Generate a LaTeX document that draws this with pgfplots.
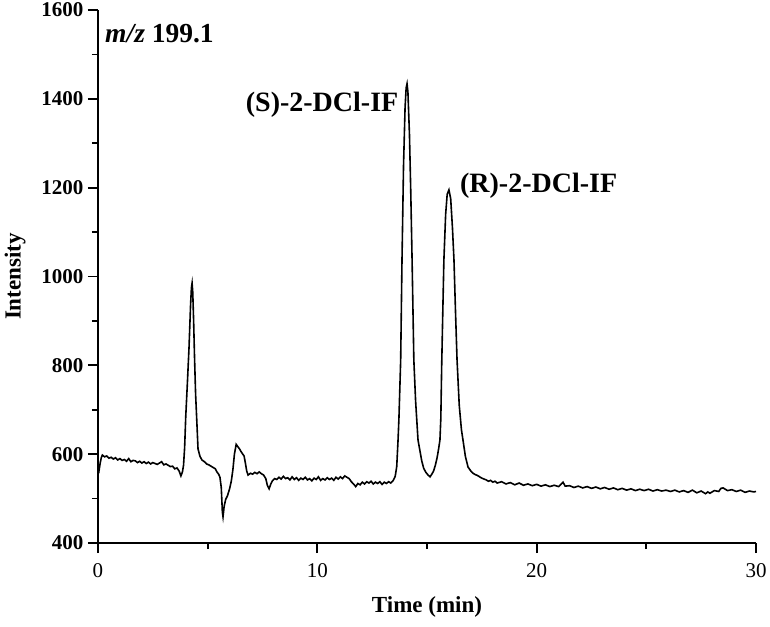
\documentclass[border=0pt]{standalone}
\usepackage{fontspec}
\setmainfont{Liberation Serif}
\usepackage{pgfplots}
\pgfplotsset{compat=1.18}

\begin{document}
\begin{tikzpicture}
\begin{axis}[
    at={(0,0)}, anchor=south west,
    scale only axis,
    width=658pt, height=533pt,
    xmin=0, xmax=30, ymin=400, ymax=1600,
    axis lines*=left,
    axis line style={line width=1.8pt},
    xtick={0,10,20,30}, ytick={400,600,...,1600},
    minor x tick num=1, minor y tick num=1,
    tick align=outside,
    major tick length=10pt, minor tick length=6pt,
    every tick/.style={line width=1.8pt, black},
    /pgf/number format/assume math mode=true,
    /pgf/number format/1000 sep={},
    xticklabel style={font=\fontsize{21}{21}\selectfont, yshift=-7pt},
    yticklabel style={font=\bfseries\fontsize{21}{21}\selectfont, xshift=-1pt},
    xlabel={Time (min)}, ylabel={Intensity},
    xlabel style={font=\bfseries\fontsize{23}{23}\selectfont, at={(axis description cs:0.5,-0.12)}, anchor=center},
    ylabel style={font=\bfseries\fontsize{23}{23}\selectfont, at={(axis description cs:-0.126,0.5)}, anchor=center},
    clip=false,
]
\addplot[black, line width=1.6pt] coordinates {
(0.00,572) (0.05,564) (0.10,580) (0.15,592) (0.20,598) (0.30,594) (0.40,596) (0.50,591)
(0.60,593) (0.70,589) (0.80,592) (0.90,587) (1.00,590) (1.10,586) (1.20,588) (1.30,584)
(1.40,590) (1.50,583) (1.60,586) (1.70,585) (1.80,581) (1.90,584) (2.00,580) (2.10,583)
(2.20,579) (2.30,582) (2.40,578) (2.50,581) (2.60,579) (2.70,577) (2.80,580) (2.90,583)
(3.00,576) (3.10,578) (3.20,575) (3.30,572) (3.40,573) (3.50,567) (3.60,569) (3.70,562)
(3.78,551) (3.85,560) (3.90,575) (3.95,615) (4.00,684) (4.08,765) (4.15,840) (4.22,935)
(4.26,975) (4.29,985) (4.32,965) (4.36,900) (4.40,820) (4.45,735) (4.50,680) (4.56,612)
(4.65,595) (4.74,587) (4.85,583) (4.95,578) (5.05,576) (5.15,573) (5.25,570) (5.35,567)
(5.42,560) (5.50,555) (5.56,548) (5.62,525) (5.67,470) (5.70,459) (5.75,482) (5.82,498)
(5.90,506) (6.00,522) (6.08,540) (6.15,565) (6.22,600) (6.30,622) (6.36,618) (6.45,612)
(6.52,606) (6.60,600) (6.66,596) (6.72,580) (6.78,562) (6.84,553) (6.95,557) (7.05,555)
(7.15,559) (7.25,556) (7.35,560) (7.45,556) (7.55,553) (7.65,545) (7.72,530) (7.80,522)
(7.88,533) (7.95,540) (8.05,545) (8.15,543) (8.25,548) (8.35,544) (8.45,550) (8.55,545)
(8.65,547) (8.75,542) (8.85,549) (8.95,543) (9.05,547) (9.15,541) (9.25,546) (9.35,543)
(9.45,548) (9.55,542) (9.65,545) (9.75,540) (9.85,546) (9.95,543) (10.05,549) (10.15,541)
(10.25,545) (10.35,542) (10.45,547) (10.55,543) (10.65,546) (10.75,541) (10.85,548) (10.95,544)
(11.05,549) (11.15,545) (11.25,551) (11.35,548) (11.45,545) (11.55,538) (11.65,533) (11.75,527)
(11.85,534) (11.95,531) (12.05,537) (12.15,533) (12.25,538) (12.35,535) (12.45,539) (12.55,533)
(12.65,537) (12.75,534) (12.85,538) (12.95,532) (13.05,537) (13.15,534) (13.25,538) (13.35,535)
(13.45,540) (13.55,550) (13.62,572) (13.68,632) (13.72,680) (13.80,812) (13.86,1037) (13.93,1250)
(14.00,1380) (14.05,1425) (14.09,1434) (14.13,1415) (14.20,1320) (14.26,1190) (14.32,1037) (14.40,812)
(14.48,720) (14.59,632) (14.68,607) (14.76,585) (14.85,568) (14.95,559) (15.05,553) (15.14,549)
(15.22,555) (15.30,562) (15.38,575) (15.46,592) (15.53,612) (15.59,632) (15.63,680) (15.67,800)
(15.72,920) (15.77,1037) (15.85,1140) (15.92,1185) (16.00,1195) (16.08,1175) (16.16,1110) (16.23,1037)
(16.30,920) (16.37,812) (16.47,710) (16.57,655) (16.64,632) (16.75,595) (16.87,571) (17.00,562)
(17.10,557) (17.20,554) (17.30,552) (17.40,549) (17.50,546) (17.60,544) (17.70,542) (17.80,539)
(17.90,541) (18.00,537) (18.10,539) (18.20,535) (18.40,538) (18.60,533) (18.80,536) (19.00,531)
(19.20,535) (19.40,530) (19.60,533) (19.80,529) (20.00,532) (20.20,528) (20.40,531) (20.60,527)
(20.80,530) (21.00,527) (21.20,537) (21.30,528) (21.50,529) (21.70,525) (21.90,528) (22.10,524)
(22.30,527) (22.50,523) (22.70,526) (22.90,522) (23.10,525) (23.30,521) (23.50,524) (23.70,520)
(23.90,523) (24.10,519) (24.30,522) (24.50,518) (24.70,521) (24.90,518) (25.10,521) (25.30,517)
(25.50,520) (25.70,517) (25.90,519) (26.10,516) (26.30,519) (26.50,515) (26.70,518) (26.90,514)
(27.10,519) (27.30,513) (27.50,517) (27.70,511) (27.80,515) (27.90,512) (28.10,518) (28.30,516)
(28.40,523) (28.50,524) (28.70,518) (28.90,520) (29.10,516) (29.30,519) (29.50,514) (29.70,517)
(29.90,515) (30.00,516)
};
\node[anchor=west, inner sep=0pt, font=\bfseries\fontsize{27.5}{27.5}\selectfont] at (axis cs:0.32,1546) {\textit{m/z} 199.1};
\node[anchor=east, inner sep=0pt, font=\bfseries\fontsize{28}{28}\selectfont] at (axis cs:13.7,1386) {(S)-2-DCl-IF};
\node[anchor=west, inner sep=0pt, font=\bfseries\fontsize{28}{28}\selectfont] at (axis cs:16.5,1204) {(R)-2-DCl-IF};
\end{axis}
\pgfresetboundingbox
\path (-98pt,-83pt) rectangle (672pt,543pt);
\end{tikzpicture}
\end{document}
